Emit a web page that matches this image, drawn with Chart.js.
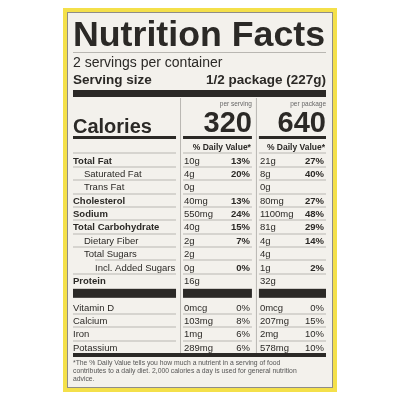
<!DOCTYPE html>
<html>
<head>
<meta charset="utf-8">
<script src="https://cdn.jsdelivr.net/npm/chart.js@4.4.0/dist/chart.umd.min.js"></script>
<style>
  html, body { margin: 0; padding: 0; background: #fff; }
  #wrap { width: 400px; height: 400px; }
</style>
</head>
<body>
<div id="wrap"><canvas id="label" width="400" height="400"></canvas></div>
<script>
// label data
const rows = ['hdr', 'Total Fat', 'Saturated Fat', 'Trans Fat', 'Cholesterol', 'Sodium',
  'Total Carbohydrate', 'Dietary Fiber', 'Total Sugars', 'Incl. Added Sugars', 'Protein',
  'bar', 'Vitamin D', 'Calcium', 'Iron', 'Potassium'];
const servingAmt = ['', '10g', '4g', '0g', '40mg', '550mg', '40g', '2g', '2g', '0g', '16g', '', '0mcg', '103mg', '1mg', '289mg'];
const servingDV = ['', '13%', '20%', '', '13%', '24%', '15%', '7%', '', '0%', '', '', '0%', '8%', '6%', '6%'];
const packageAmt = ['', '21g', '8g', '0g', '80mg', '1100mg', '81g', '4g', '4g', '1g', '32g', '', '0mcg', '207mg', '2mg', '578mg'];
const packageDV = ['', '27%', '40%', '', '27%', '48%', '29%', '14%', '', '2%', '', '', '0%', '15%', '10%', '10%'];
const calories = [320, 640];
const footnote = [
  '*The % Daily Value tells you how much a nutrient in a serving of food',
  'contributes to a daily diet. 2,000 calories a day is used for general nutrition',
  'advice.'
];

const boldRows = ['Total Fat', 'Cholesterol', 'Sodium', 'Total Carbohydrate', 'Protein'];
const indentOf = { 'Saturated Fat': 11, 'Trans Fat': 11, 'Dietary Fiber': 11, 'Total Sugars': 11, 'Incl. Added Sugars': 22 };
const FONT = '"Liberation Sans", Arial, sans-serif';
const INK = '#2b2926';
const RULE = '#b9b7b2';

// draw text squeezed to a given width
function fitText(c, text, x, y, w) {
  const m = c.measureText(text).width;
  c.save();
  c.translate(x, y);
  c.scale(w / m, 1);
  c.fillText(text, 0, 0);
  c.restore();
}

const labelPlugin = {
  id: 'labelPlugin',
  beforeDraw(chart) {
    const c = chart.ctx;
    const a = chart.chartArea;
    const ys = chart.scales.y;
    const L = a.left, R = a.right;
    const x1 = L + (R - L) * 0.423, x2 = L + (R - L) * 0.723;
    const cols = [[L, x1 - 4], [x1 + 3, x2 - 4], [x2 + 3, R]];

    c.save();
    c.fillStyle = '#f4e04a';
    c.fillRect(63, 8, 274, 384);
    c.fillStyle = '#f3f1ec';
    c.fillRect(67, 12, 266, 376);
    c.strokeStyle = '#8f8d88';
    c.lineWidth = 1;
    c.strokeRect(67.5, 12.5, 265, 375);

    c.fillStyle = INK;
    c.textBaseline = 'alphabetic';
    c.font = 'bold 35px ' + FONT;
    c.textAlign = 'left';
    fitText(c, 'Nutrition Facts', L, 46, R - L - 1);
    c.fillStyle = RULE;
    c.fillRect(L, 52, R - L, 1);
    c.fillStyle = INK;
    c.font = '14px ' + FONT;
    c.fillText('2 servings per container', L, 67);
    c.font = 'bold 13.5px ' + FONT;
    c.fillText('Serving size', L, 84);
    c.textAlign = 'right';
    c.fillText('1/2 package (227g)', R, 84);
    c.fillRect(L, 90, R - L, 7);

    c.fillStyle = '#666';
    c.font = '6.5px ' + FONT;
    c.fillText('per serving', cols[1][1], 106);
    c.fillText('per package', cols[2][1], 106);
    c.fillStyle = INK;
    c.font = 'bold 29px ' + FONT;
    c.fillText(String(calories[0]), cols[1][1], 132);
    c.fillText(String(calories[1]), cols[2][1], 132);
    c.textAlign = 'left';
    c.font = 'bold 20px ' + FONT;
    c.fillText('Calories', L, 133);
    cols.forEach(([s, e]) => c.fillRect(s, 136, e - s, 3));

    c.fillStyle = RULE;
    c.fillRect(x1, 98, 1, a.bottom - 98);
    c.fillRect(x2, 98, 1, a.bottom - 98);

    const step = ys.getPixelForValue(1) - ys.getPixelForValue(0);
    rows.forEach((name, i) => {
      const yc = ys.getPixelForValue(i);
      const base = yc + 3.5;
      const lineY = Math.round(yc + step / 2) - 0.5;
      if (name === 'bar') {
        c.fillStyle = INK;
        cols.forEach(([s, e]) => c.fillRect(s, yc - 5, e - s, 9));
        return;
      }
      const top = i <= 10;
      if (name === 'hdr') {
        c.fillStyle = INK;
        c.font = 'bold 8.5px ' + FONT;
        c.textAlign = 'right';
        c.fillText('% Daily Value*', cols[1][1] - 1, base);
        c.fillText('% Daily Value*', cols[2][1] - 1, base);
      } else {
        const ind = indentOf[name] || 0;
        c.fillStyle = INK;
        c.textAlign = 'left';
        c.font = (boldRows.includes(name) ? 'bold ' : '') + '9.5px ' + FONT;
        c.fillText(name, L + ind, base);
        c.font = '9.5px ' + FONT;
        c.fillText(servingAmt[i], cols[1][0] + 1, base);
        c.fillText(packageAmt[i], cols[2][0] + 1, base);
        c.textAlign = 'right';
        c.font = (top ? 'bold ' : '') + '9.5px ' + FONT;
        c.fillText(servingDV[i], cols[1][1] - 2, base);
        c.fillText(packageDV[i], cols[2][1] - 2, base);
      }
      if (i < rows.length - 1 && rows[i + 1] !== 'bar' && name !== 'Protein') {
        const nextInd = indentOf[rows[i + 1]] === 22 ? 22 : 0;
        c.fillStyle = RULE;
        c.fillRect(cols[0][0] + nextInd, lineY, cols[0][1] - cols[0][0] - nextInd, 1);
        c.fillRect(cols[1][0], lineY, cols[1][1] - cols[1][0], 1);
        c.fillRect(cols[2][0], lineY, cols[2][1] - cols[2][0], 1);
      }
    });

    c.fillStyle = INK;
    c.fillRect(L, a.bottom - 1, R - L, 4);
    c.fillStyle = '#555';
    c.font = '6.8px ' + FONT;
    c.textAlign = 'left';
    footnote.forEach((t, k) => c.fillText(t, L, 365 + k * 8));
    c.restore();
  }
};

document.addEventListener('DOMContentLoaded', function () {
  const ctx = document.getElementById('label').getContext('2d');
  new Chart(ctx, {
    type: 'bar',
    data: { labels: rows, datasets: [{ data: [], backgroundColor: 'transparent' }] },
    options: {
      responsive: false,
      animation: false,
      indexAxis: 'y',
      layout: { padding: { top: 140, bottom: 46, left: 73, right: 74 } },
      plugins: { legend: { display: false }, tooltip: { enabled: false } },
      scales: {
        x: { display: false, min: 0, max: 1 },
        y: { display: false, type: 'category' }
      }
    },
    plugins: [labelPlugin]
  });
});
</script>
</body>
</html>
